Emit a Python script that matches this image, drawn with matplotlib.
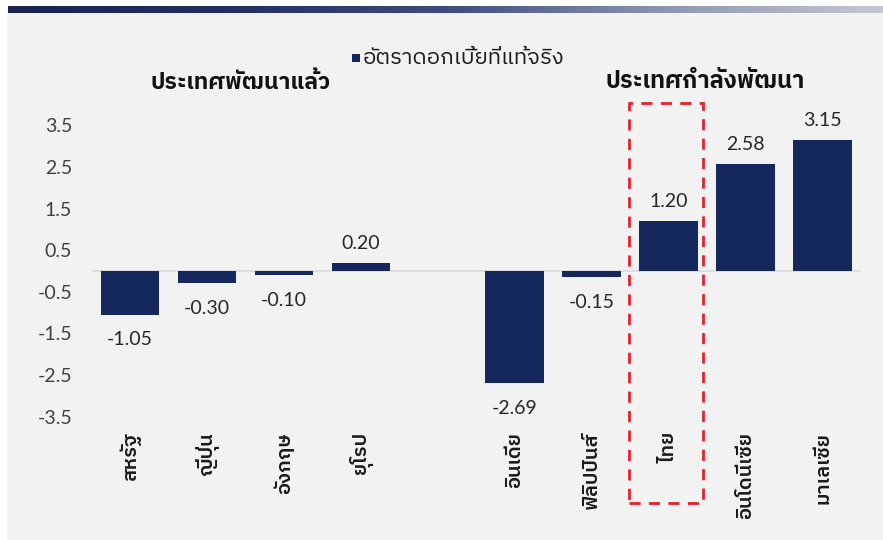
import numpy as np
import matplotlib
matplotlib.use("Agg")
import matplotlib.pyplot as plt
from matplotlib.patches import Rectangle

plt.rcParams['font.family'] = ['Lato', 'IBM Plex Sans Thai', 'DejaVu Sans']

# real interest rate by country (%), with an empty slot between the two groups
countries = ['สหรัฐ', 'ญี่ปุ่น', 'อังกฤษ', 'ยุโรป', '',
             'อินเดีย', 'ฟิลิปปินส์', 'ไทย', 'อินโดนีเซีย', 'มาเลเซีย']
real_rate = [-1.05, -0.30, -0.10, 0.20, np.nan,
             -2.69, -0.15, 1.20, 2.58, 3.15]
yticks = [3.5, 2.5, 1.5, 0.5, -0.5, -1.5, -2.5, -3.5]
legend_label = 'อัตราดอกเบี้ยที่แท้จริง'
group_titles = ['ประเทศพัฒนาแล้ว', 'ประเทศกำลังพัฒนา']
highlight = 'ไทย'

navy = '#14285e'
panel = '#f2f2f2'
thai = ['IBM Plex Sans Thai']

fig = plt.figure(figsize=(8.83, 5.4), dpi=100)
fig.patch.set_facecolor('white')

# grey panel behind the chart
fig.patches.append(Rectangle((7 / 883, 0), 1, 1 - 13 / 540, transform=fig.transFigure,
                             facecolor=panel, edgecolor='none', zorder=-5))

# gradient strip across the top
strip = fig.add_axes([8 / 883, 1 - 13 / 540, 1 - 8 / 883, 7 / 540])
grad = np.linspace(0, 1, 256).reshape(1, -1)
cmap = matplotlib.colors.LinearSegmentedColormap.from_list(
    'strip', ['#1b2453', '#222e66', '#3f4b82', '#8e95b0', '#c4c7d2'])
strip.imshow(grad, aspect='auto', cmap=cmap)
strip.axis('off')

ax = fig.add_axes([91.5 / 883, 1 - 416.6 / 540, (861 - 91.5) / 883, (416.6 - 125.4) / 540])
ax.patch.set_alpha(0)

x = np.arange(len(countries))
vals = np.array(real_rate, dtype=float)
ax.bar(x, vals, width=0.76, color=navy, zorder=3)

for xi, v in zip(x, vals):
    if np.isnan(v):
        continue
    ax.annotate(f'{v:.2f}', (xi, v), xytext=(0, 8 if v > 0 else -12),
                textcoords='offset points', ha='center',
                va='bottom' if v > 0 else 'top', fontsize=14, color='#262626',
                annotation_clip=False)

ax.axhline(0, color='#d9d9d9', lw=1.2, zorder=2)
ax.set_xlim(-0.5, len(countries) - 0.5)
ax.set_ylim(-3.5, 3.5)
ax.set_yticks(yticks)
ax.set_yticklabels([f'{t:.1f}' for t in yticks], fontsize=14, color='#404040')
ax.set_xticks(x)
ax.set_xticklabels(countries, rotation=90, fontsize=14.5, color='#1a1a1a',
                   family=thai, fontweight='semibold')
ax.tick_params(axis='both', length=0)
ax.tick_params(axis='y', pad=14)
ax.tick_params(axis='x', pad=11)
for s in ax.spines.values():
    s.set_visible(False)

# dashed box around Thailand
i = countries.index(highlight)
box = Rectangle((i - 0.51, -5.58), 0.96, 9.62, transform=ax.transData,
                fill=False, edgecolor='#e8202a', lw=2, linestyle=(0, (4, 3)),
                clip_on=False, zorder=4)
ax.add_patch(box)

# legend and group titles
fig.patches.append(Rectangle((352 / 883, 1 - 62 / 540), 8 / 883, 8 / 540,
                             transform=fig.transFigure, facecolor=navy, edgecolor='none',
                             zorder=5))
fig.text(363 / 883, 1 - 58 / 540, legend_label, ha='left', va='center',
         fontsize=16, color='#1a1a1a', family=thai)
fig.text(241 / 883, 1 - 82 / 540, group_titles[0], ha='center', va='center',
         fontsize=16.5, fontweight='bold', color='#111111', family=thai)
fig.text(705 / 883, 1 - 82 / 540, group_titles[1], ha='center', va='center',
         fontsize=17, fontweight='bold', color='#111111', family=thai)

fig.savefig('out.png', dpi=100, facecolor=fig.get_facecolor())
